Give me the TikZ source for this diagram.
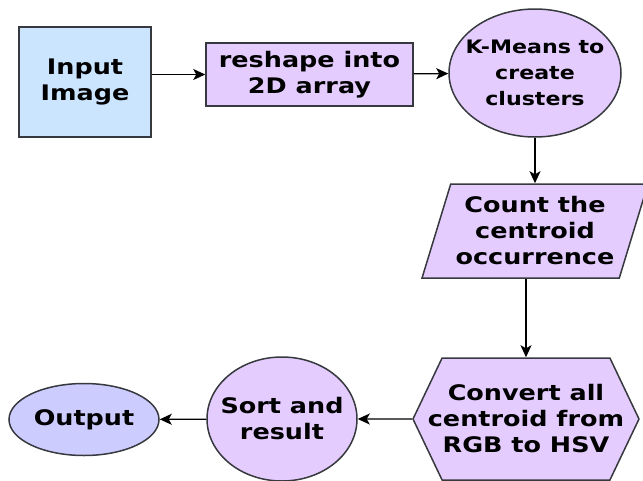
\documentclass[tikz,border=0pt]{standalone}
\usepackage{fontspec}
\setmainfont{DejaVu Sans}[FakeStretch=1.19]
\usetikzlibrary{shapes.geometric,shapes.symbols,arrows.meta}

\definecolor{blaufill}{HTML}{CCE5FF}
\definecolor{lilafill}{HTML}{E5CCFF}
\definecolor{outfill}{HTML}{CCCCFF}
\definecolor{rand}{HTML}{36393D}

\begin{document}
\begin{tikzpicture}[>={Stealth[length=12pt,width=11pt,inset=3pt]},x=1pt,y=-1pt,
	box/.style={draw=rand,line width=1.5pt,align=center,inner sep=0pt,
		font=\fontsize{21.4}{26}\selectfont\bfseries},
	pfeil/.style={->,line width=1.3pt}]

\useasboundingbox (0,0) rectangle (643,480);

% obere Reihe
\node[box,fill=blaufill,minimum width=132pt,minimum height=110pt]
	(bild) at (85,82) {Input\\Image};
\node[box,fill=lilafill,minimum width=207pt,minimum height=63pt]
	(umform) at (309.5,74.5) {reshape into\\2D array};
\node[box,ellipse,fill=lilafill,inner xsep=-20pt,minimum width=172pt,minimum height=128pt,
	font=\fontsize{18.6}{26}\selectfont\bfseries]
	(kmeans) at (535,73) {K-Means to\\create\\clusters};

% rechte Spalte
\node[box,trapezium,trapezium left angle=68.5,trapezium right angle=111.5,
	trapezium stretches=true,fill=lilafill,minimum width=226pt,minimum height=94pt]
	(zaehlen) at (535,231) {Count the\\centroid\\occurrence};
\node[box,signal,signal to=east and west,signal pointer angle=129,fill=lilafill,
	inner xsep=-15pt,minimum width=226pt,minimum height=122pt]
	(hsv) at (526,419) {Convert all\\centroid from\\RGB to HSV};

% untere Reihe
\node[box,ellipse,fill=lilafill,inner xsep=-15pt,minimum width=150pt,minimum height=124pt]
	(sortieren) at (282,419) {Sort and\\result};
\node[box,ellipse,fill=outfill,minimum width=150pt,minimum height=72pt]
	(ausgabe) at (84,419.5) {Output};

\draw[pfeil] (bild.east |- umform.west) -- (umform.west);
\draw[pfeil] (umform) -- (kmeans);
\draw[pfeil] (kmeans) -- (zaehlen);
\draw[pfeil] (hsv.north |- zaehlen.south) -- (hsv.north);
\draw[pfeil] (hsv) -- (sortieren);
\draw[pfeil] (sortieren) -- (ausgabe);

\end{tikzpicture}
\end{document}
